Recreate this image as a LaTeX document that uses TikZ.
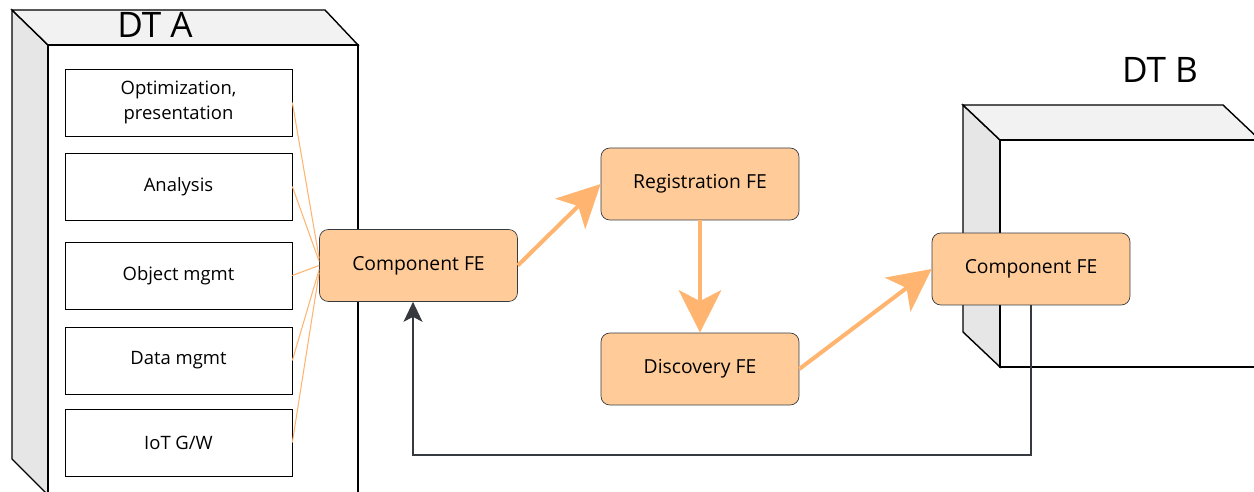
\documentclass[tikz,border=0pt]{standalone}
\usepackage{fontspec}
\setmainfont{Open Sans}
\usetikzlibrary{arrows.meta}
\definecolor{feorange}{HTML}{FFCC99}
\definecolor{arroworange}{HTML}{FFB570}
\definecolor{edgegray}{HTML}{36393D}
\definecolor{sidegray}{HTML}{E6E6E6}
\definecolor{topgray}{HTML}{F2F2F2}
\begin{document}
\begin{tikzpicture}[x=0.02cm, y=-0.02cm,
    febox/.style={draw=edgegray, fill=feorange, rounded corners=5pt, minimum width=3.96cm, minimum height=1.44cm, inner sep=0pt, font=\fontsize{11}{13}\selectfont},
    compbox/.style={draw=black, fill=white, minimum width=4.54cm, minimum height=1.34cm, inner sep=0pt, align=center, font=\fontsize{10.5}{14}\selectfont},
    feed/.style={draw=arroworange, line width=0.6pt},
    flow/.style={draw=arroworange, line width=2.3pt, -{Stealth[length=0.85cm, width=0.85cm, inset=0.22cm]}},
    back/.style={draw=edgegray, line width=0.8pt, -{Stealth[length=0.4cm, width=0.38cm, inset=0.1cm]}},
    dtlabel/.style={font=\fontsize{20}{24}\selectfont}]
    \useasboundingbox (0,0) rectangle (1254,492);
    % DT A
    \draw[fill=sidegray, line width=0.8pt] (12,10) -- (48,45) -- (48,495) -- (12,459) -- cycle;
    \draw[fill=topgray, line width=0.8pt] (12,10) -- (325,10) -- (358,45) -- (48,45) -- cycle;
    \draw[fill=white, line width=0.8pt] (48,45) rectangle (358,520);
    \node[dtlabel] (dta) at (155,25) {DT A};
    \node[compbox] (opt) at (178.5,102.5) {Optimization,\\presentation};
    \node[compbox] (ana) at (178.5,186.5) {Analysis};
    \node[compbox] (obj) at (178.5,275.5) {Object mgmt};
    \node[compbox] (dat) at (178.5,360.5) {Data mgmt};
    \node[compbox] (iot) at (178.5,442.5) {IoT G/W};
    % DT B
    \draw[fill=sidegray, line width=0.8pt] (963,105) -- (1000,140) -- (1000,367) -- (963,332) -- cycle;
    \draw[fill=topgray, line width=0.8pt] (963,105) -- (1223,105) -- (1260,140) -- (1000,140) -- cycle;
    \draw[fill=white, line width=0.8pt] (1000,140) rectangle (1300,367);
    \node[dtlabel] (dtb) at (1160,70) {DT B};
    % front ends
    \node[febox] (compa) at (418.5,265.5) {Component FE};
    \node[febox] (reg) at (700,184) {Registration FE};
    \node[febox] (disc) at (700,369) {Discovery FE};
    \node[febox] (compb) at (1031,269) {Component FE};
    % links
    \draw[feed] (opt.east) -- ([yshift=0.14cm]compa.west);
    \draw[feed] (ana.east) -- ([yshift=0.08cm]compa.west);
    \draw[feed] (obj.east) -- (compa.west);
    \draw[feed] (dat.east) -- ([yshift=-0.08cm]compa.west);
    \draw[feed] (iot.east) -- ([yshift=-0.14cm]compa.west);
    \draw[flow] (compa.east) -- (reg.west);
    \draw[flow] (reg.south) -- (disc.north);
    \draw[flow] (disc.east) -- (compb.west);
    \draw[back] (compb.south) |- (413,455) -- (compa.south -| 413,0);
\end{tikzpicture}
\end{document}
